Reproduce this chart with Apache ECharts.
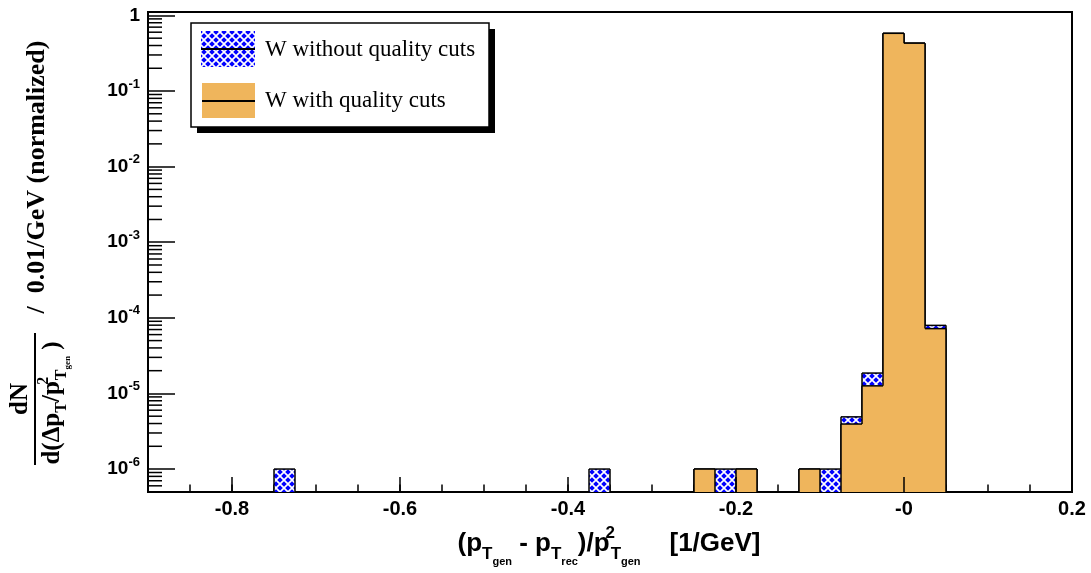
<!DOCTYPE html>
<html><head><meta charset="utf-8">
<script src="https://cdn.jsdelivr.net/npm/echarts@6/dist/echarts.min.js"></script>
<style>html,body{margin:0;padding:0;background:#fff}#c{width:1091px;height:573px}</style>
</head><body><div id="c"></div>
<script>
// ---- data ----
const binWidth = 0.025;
const binLowEdges = [-0.75, -0.375, -0.25, -0.225, -0.2, -0.125, -0.1, -0.075, -0.05, -0.025, 0, 0.025];
const withoutCuts = [1e-6, 1e-6, 1e-6, 1e-6, 1e-6, 1e-6, 1e-6, 4.9e-6, 1.86e-5, 0.58, 0.43, 7.95e-5];
const withCuts    = [0,    0,    1e-6, 0,    1e-6, 1e-6, 0,    3.94e-6, 1.26e-5, 0.58, 0.43, 7.2e-5];
const seriesNames = ['W without quality cuts', 'W with quality cuts'];
const xMajorTicks = [-0.8, -0.6, -0.4, -0.2, 0, 0.2];
const yMinorMultipliers = [2, 3, 4, 5, 6, 7, 8, 9];
const yDecades = [-7, -6, -5, -4, -3, -2, -1];

const X_MIN = -0.9, X_MAX = 0.2, Y_MIN = 4.97e-7, Y_MAX = 1.11;
const SANS = '"Liberation Sans", Arial, Helvetica, sans-serif';
const SERIF = '"Liberation Serif", "Times New Roman", Times, serif';
const ORANGE = '#EFB55C';

function makePattern() {
  const c = document.createElement('canvas');
  c.width = 8; c.height = 8;
  const g = c.getContext('2d');
  g.fillStyle = '#ffffff'; g.fillRect(0, 0, 8, 8);
  g.fillStyle = '#0000ff';
  const r = 2.8;
  [[4, 4], [0, 0], [8, 0], [0, 8], [8, 8]].forEach(([cx, cy]) => {
    g.beginPath();
    g.moveTo(cx, cy - r); g.lineTo(cx + r, cy); g.lineTo(cx, cy + r); g.lineTo(cx - r, cy);
    g.closePath(); g.fill();
  });
  return c;
}
const bluePattern = { image: makePattern(), repeat: 'repeat' };

function histRender(vals, fill) {
  const n = vals.length;
  return function (params, api) {
    const i = params.dataIndex;
    const cs = params.coordSys;
    const bottom = cs.y + cs.height;
    const x0 = binLowEdges[i];
    const v = vals[i];
    const yOf = (val) => val > 0 ? api.coord([x0, val])[1] : bottom;
    const px0 = api.coord([x0, Y_MIN])[0];
    const px1 = api.coord([x0 + binWidth, Y_MIN])[0];
    const prevContig = i > 0 && Math.abs(binLowEdges[i - 1] + binWidth - x0) < 1e-9;
    const nextContig = i < n - 1 && Math.abs(x0 + binWidth - binLowEdges[i + 1]) < 1e-9;
    const prevV = prevContig ? vals[i - 1] : 0;
    const nextV = nextContig ? vals[i + 1] : 0;
    const children = [];
    if (!(v > 0)) return { type: 'group', children };
    const yTop = yOf(v);
    const ls = { stroke: '#000', lineWidth: 1.5 };
    children.push({ type: 'rect', shape: { x: px0, y: yTop, width: px1 - px0, height: bottom - yTop }, style: { fill: fill }, z2: 0 });
    children.push({ type: 'line', shape: { x1: px0, y1: yOf(prevV), x2: px0, y2: yTop }, style: ls, z2: 10 });
    children.push({ type: 'line', shape: { x1: px0, y1: yTop, x2: px1, y2: yTop }, style: ls, z2: 10 });
    if (!(nextV > 0)) children.push({ type: 'line', shape: { x1: px1, y1: yTop, x2: px1, y2: bottom }, style: ls, z2: 10 });
    return { type: 'group', children };
  };
}

const yMinorTicks = [];
yDecades.forEach(d => yMinorMultipliers.forEach(m => {
  const v = m * Math.pow(10, d);
  if (v > Y_MIN && v < Y_MAX) yMinorTicks.push([X_MIN, v]);
}));

const chart = echarts.init(document.getElementById('c'), null, { renderer: 'canvas' });
const option = {
  animation: false,
  backgroundColor: '#fff',
  grid: { left: 148, right: 19, top: 12, bottom: 81, show: true, borderColor: '#000', borderWidth: 2, backgroundColor: 'transparent' },
  xAxis: {
    type: 'value', min: X_MIN, max: X_MAX, interval: 0.05,
    axisLine: { onZero: false, lineStyle: { color: '#000', width: 2 } },
    axisTick: { inside: true, length: 7.5, lineStyle: { color: '#000', width: 1.5 } },
    splitLine: { show: false },
    axisLabel: {
      margin: 7, color: '#000', fontFamily: SANS, fontWeight: 'bold', fontSize: 20,
      formatter: function (v) {
        const k = v / 0.2;
        if (Math.abs(k - Math.round(k)) > 1e-6) return '';
        if (Math.abs(v) < 1e-9) return '-0';
        return v.toFixed(1);
      }
    }
  },
  yAxis: {
    type: 'log', logBase: 10, min: Y_MIN, max: Y_MAX, splitNumber: 7,
    axisLine: { onZero: false, lineStyle: { color: '#000', width: 2 } },
    axisTick: { inside: true, length: 27, lineStyle: { color: '#000', width: 1.5 } },
    splitLine: { show: false },
    axisLabel: {
      margin: 8, color: '#000', fontFamily: SANS, fontWeight: 'bold', fontSize: 19,
      showMinLabel: false, showMaxLabel: false,
      formatter: function (v) {
        const l = Math.log10(v);
        const e = Math.round(l);
        if (Math.abs(l - e) > 1e-6) return '';
        if (e === 0) return '1';
        return '10{sup|' + e + '}';
      },
      rich: { sup: { fontSize: 13, fontWeight: 'bold', fontFamily: SANS, color: '#000', padding: [0, 0, 14, 0] } }
    }
  },
  series: [
    { name: seriesNames[0], type: 'custom', z: 2, clip: true,
      data: binLowEdges.map((e, i) => [e, withoutCuts[i]]),
      renderItem: histRender(withoutCuts, bluePattern) },
    { name: seriesNames[1], type: 'custom', z: 3, clip: true,
      data: binLowEdges.map((e, i) => [e, withCuts[i]]),
      renderItem: histRender(withCuts, ORANGE) },
    { type: 'custom', z: 5, silent: true, clip: false,
      data: yMinorTicks,
      renderItem: function (params, api) {
        const p = api.coord([api.value(0), api.value(1)]);
        return { type: 'line', shape: { x1: p[0], y1: p[1], x2: p[0] + 14, y2: p[1] }, style: { stroke: '#000', lineWidth: 1.5 } };
      } },
    { type: 'custom', z: 5, silent: true, clip: false,
      data: xMajorTicks.map(v => [v, Y_MIN]),
      renderItem: function (params, api) {
        const p = api.coord([api.value(0), api.value(1)]);
        return { type: 'line', shape: { x1: p[0], y1: p[1], x2: p[0], y2: p[1] - 15 }, style: { stroke: '#000', lineWidth: 1.5 } };
      } }
  ],
  graphic: [
    // legend
    { type: 'rect', shape: { x: 197, y: 29, width: 298, height: 104 }, style: { fill: '#000' }, z: 10 },
    { type: 'rect', shape: { x: 191, y: 23, width: 298, height: 104 }, style: { fill: '#fff', stroke: '#000', lineWidth: 1.5 }, z: 11 },
    { type: 'rect', shape: { x: 201, y: 31, width: 54, height: 36 }, style: { fill: bluePattern }, z: 12 },
    { type: 'line', shape: { x1: 201, y1: 49, x2: 255, y2: 49 }, style: { stroke: '#000', lineWidth: 2 }, z: 13 },
    { type: 'text', x: 265, y: 50, style: { text: seriesNames[0], font: '23px ' + SERIF, fill: '#000', align: 'left', verticalAlign: 'middle' }, z: 13 },
    { type: 'rect', shape: { x: 202, y: 83, width: 53, height: 35 }, style: { fill: ORANGE }, z: 12 },
    { type: 'line', shape: { x1: 202, y1: 101, x2: 255, y2: 101 }, style: { stroke: '#000', lineWidth: 2 }, z: 13 },
    { type: 'text', x: 265, y: 101, style: { text: seriesNames[1], font: '23px ' + SERIF, fill: '#000', align: 'left', verticalAlign: 'middle' }, z: 13 },
    // x title
    { type: 'text', x: 609, y: 544, z: 10, style: {
        text: '(p{s|T}{ss|gen} - p{s|T}{ss|rec})/p{sup|2}{s|T}{ss|gen}    [1/GeV]',
        font: 'bold 26px ' + SANS, fill: '#000', align: 'center', verticalAlign: 'middle',
        rich: {
          s: { fontSize: 17, fontWeight: 'bold', fontFamily: SANS, padding: [20, 0, 0, 0] },
          ss: { fontSize: 11, fontWeight: 'bold', fontFamily: SANS, padding: [36, 0, 0, 0] },
          sup: { fontSize: 17, fontWeight: 'bold', fontFamily: SANS, padding: [0, 0, 22, 0], width: 1 }
        } } },
    // y title
    { type: 'text', x: 21, y: 399, rotation: Math.PI / 2, z: 10, style: {
        text: 'dN', font: 'bold 25px ' + SERIF, fill: '#000', align: 'center', verticalAlign: 'middle' } },
    { type: 'line', shape: { x1: 35, y1: 333, x2: 35, y2: 465 }, style: { stroke: '#000', lineWidth: 2 }, z: 10 },
    { type: 'text', x: 53, y: 403, rotation: Math.PI / 2, z: 10, style: {
        text: 'd(Δp{s|T}/p{sup|2}{s|T}{ss|gen} )',
        font: 'bold 25px ' + SERIF, fill: '#000', align: 'center', verticalAlign: 'middle',
        rich: {
          s: { fontSize: 16, fontWeight: 'bold', fontFamily: SERIF, padding: [18, 0, 0, 0] },
          ss: { fontSize: 9, fontWeight: 'bold', fontFamily: SERIF, padding: [30, 0, 0, 0] },
          sup: { fontSize: 16, fontWeight: 'bold', fontFamily: SERIF, padding: [0, 0, 18, 0], width: 1 }
        } } },
    { type: 'text', x: 37, y: 177, rotation: Math.PI / 2, z: 10, style: {
        text: '/  0.01/GeV (normalized)', font: 'bold 26px ' + SERIF, fill: '#000', align: 'center', verticalAlign: 'middle' } }
  ]
};
chart.setOption(option);
</script>
</body></html>
